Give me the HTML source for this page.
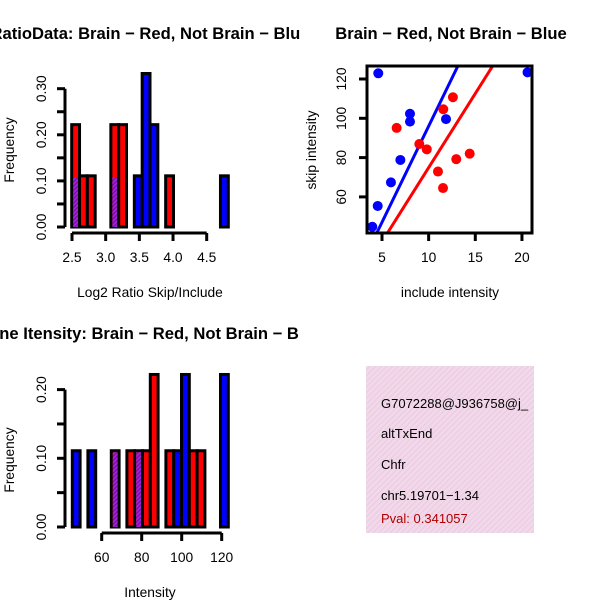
<!DOCTYPE html>
<html><head><meta charset="utf-8"><style>
html,body{margin:0;padding:0;background:#fff;}
svg{display:block;font-family:"Liberation Sans",sans-serif;}
</style></head><body>
<svg id="c" width="600" height="600" viewBox="0 0 600 600">
<defs>
<pattern id="hatch" width="4" height="4" patternUnits="userSpaceOnUse" patternTransform="rotate(45)">
<rect width="4" height="4" fill="#f6d6ee"/><rect width="1.2" height="4" fill="#e2d2d8"/>
</pattern>
<pattern id="purp" width="3" height="3" patternUnits="userSpaceOnUse" patternTransform="rotate(45)">
<rect width="3" height="3" fill="#a020f0"/><rect width="1.2" height="3" fill="#7a1080"/>
</pattern>
<clipPath id="sc"><rect x="367" y="66" width="165" height="167"/></clipPath>
<clipPath id="left"><rect x="0" y="0" width="300" height="600"/></clipPath>
</defs>
<g id="p1" clip-path="url(#left)"></g>
<g id="p2"></g>
<g id="p3" clip-path="url(#left)"></g>
<g>
<rect x="366" y="366" width="168" height="167" fill="url(#hatch)"/>
<svg x="366" y="366" width="168" height="167">
<text x="15" y="42" font-size="13">G7072288@J936758@j_</text>
<text x="15" y="72" font-size="13">altTxEnd</text>
<text x="15" y="103" font-size="13">Chfr</text>
<text x="15" y="134" font-size="13">chr5.19701−1.34</text>
<text x="15" y="157" font-size="13" fill="#b00000">Pval: 0.341057</text>
</svg>
</g>
</svg>
<script>
// Histogram 1 data (20 bins)
const h1Red  = [0.222,0.111,0.111,0,0,0.222,0.222,0,0,0,0,0,0.111,0,0,0,0,0,0,0];
const h1Blue = [0.111,0,0,0,0,0.111,0,0,0.111,0.333,0.222,0,0,0,0,0,0,0,0,0.111];
const h1XTicks = [2.5,3.0,3.5,4.0,4.5];
const h1XLabels = ["2.5","3.0","3.5","4.0","4.5"];
const h1YTicks = [0,0.05,0.10,0.15,0.20,0.25,0.30];
// Histogram 3 data (20 bins)
const h3Red  = [0,0,0,0,0,0.111,0,0.111,0.111,0.111,0.222,0,0.111,0,0,0.111,0.111,0,0,0];
const h3Blue = [0.111,0,0.111,0,0,0.111,0,0,0.111,0,0,0,0,0.111,0.222,0,0,0,0,0.222];
const h3XTicks = [60,80,100,120];
const h3YTicks = [0,0.05,0.10,0.15,0.20];
// Scatter data
const blueX = [4.6,3.96,4.54,5.96,6.97,8.0,8.0,11.86,20.6];
const blueY = [122.9,44.8,55.4,67.4,78.8,102.3,98.3,99.6,123.4];
const redX = [6.57,9.0,9.8,11.57,12.6,11.0,11.54,12.96,14.4];
const redY = [95.1,86.9,84.2,104.6,110.7,72.9,64.5,79.2,82.0];
const blueFit = [-1.8,9.78]; // intercept, slope
const redFit = [-0.5,7.54];
const scXTicks = [5,10,15,20];
const scYTicks = [60,80,100,120];

const NS="http://www.w3.org/2000/svg";
const TS=16.6, LS=13.8;
function mk(parent,tag,attrs,text){const e=document.createElementNS(NS,tag);for(const k in attrs)e.setAttribute(k,attrs[k]);if(text!==undefined)e.textContent=text;parent.appendChild(e);return e;}

function hist(g,red,blue,x0,x1,ybase,pxPer01,yTicks,yLab,xAxisY,xTickPos,xTickLabels,title,titleX,titleY,xlabText,xlabY,name){
  const n=red.length,bw=(x1-x0)/n;
  const ys=v=>ybase-v/0.1*pxPer01;
  for(let i=0;i<n;i++){
    const r=red[i],b=blue[i];if(r<=0&&b<=0)continue;
    const hi=Math.max(r,b),lo=Math.min(r,b);
    const col=r>=b?"#ff0000":"#0000ff";
    let e=mk(g,"rect",{x:x0+i*bw,y:ys(hi),width:bw,height:ys(0)-ys(hi),fill:col,stroke:"#000","stroke-width":3});
    
    
    if(lo>0){e=mk(g,"rect",{x:x0+i*bw+1.5,y:ys(lo)+1.5,width:bw-3,height:ys(0)-ys(lo)-1.5,fill:"url(#purp)"});
    
    }
  }
  mk(g,"line",{x1:65,x2:65,y1:ys(yTicks[yTicks.length-1]),y2:ys(0),stroke:"#000","stroke-width":3});
  yTicks.forEach((t,i)=>{mk(g,"line",{x1:57,x2:65,y1:ys(t),y2:ys(t),stroke:"#000","stroke-width":3});
    if(i%2==0){const e=mk(g,"text",{x:0,y:0,"font-size":LS,"text-anchor":"middle",transform:`translate(46,${ys(t)}) rotate(-90)`},t.toFixed(2));
    
    }});
  mk(g,"line",{x1:xTickPos[0],x2:xTickPos[xTickPos.length-1],y1:xAxisY,y2:xAxisY,stroke:"#000","stroke-width":3});
  xTickPos.forEach((p,i)=>{mk(g,"line",{x1:p,x2:p,y1:xAxisY,y2:xAxisY+8,stroke:"#000","stroke-width":3});
    const e=mk(g,"text",{x:p,y:xAxisY+29,"font-size":LS,"text-anchor":"middle"},xTickLabels[i]);
    
    });
  let e=mk(g,"text",{x:0,y:0,"font-size":LS,"text-anchor":"middle",transform:`translate(14,${yLab}) rotate(-90)`},"Frequency");
  
  
  e=mk(g,"text",{x:150,y:xlabY,"font-size":LS,"text-anchor":"middle"},xlabText);
  
  
  e=mk(g,"text",{x:titleX,y:titleY,"font-size":TS,"font-weight":"bold","text-anchor":"middle"},title);
  
  
}
const p1=document.getElementById('p1');
const s1=v=>72+(v-2.5)*67.35;
hist(p1,h1Red,h1Blue,71.7,228.3,227,46.1,h1YTicks,150,233,h1XTicks.map(s1),h1XLabels,
 "RatioData: Brain − Red, Not Brain − Blue",150,39,"Log2 Ratio Skip/Include",297,"ratio");
const p3=document.getElementById('p3');
const s3=v=>101.7+(v-60)*2;
hist(p3,h3Red,h3Blue,72.3,228.3,527,68.7,h3YTicks,460,533,h3XTicks.map(s3),h3XTicks.map(String),
 "Gene Itensity: Brain − Red, Not Brain − Blue",150,339,"Intensity",597,"intensity");

// scatter
const p2=document.getElementById('p2');
const sx=v=>382+(v-5)*9.33, sy=v=>79+(120-v)*1.965;
const cg=mk(p2,"g",{"clip-path":"url(#sc)"});
[[blueFit,"#0000ff"],[redFit,"#ff0000"]].forEach(([f,c])=>{
  const e=mk(cg,"line",{x1:sx(0),y1:sy(f[0]),x2:sx(30),y2:sy(f[0]+f[1]*30),stroke:c,"stroke-width":3});
  
  
});
blueX.forEach((x,i)=>{const e=mk(cg,"circle",{cx:sx(x),cy:sy(blueY[i]),r:5,fill:"#0000ff"});
  
  });
redX.forEach((x,i)=>{const e=mk(cg,"circle",{cx:sx(x),cy:sy(redY[i]),r:5,fill:"#ff0000"});
  
  });
mk(p2,"rect",{x:367,y:66,width:165,height:167,fill:"none",stroke:"#000","stroke-width":3});
scXTicks.forEach(t=>{mk(p2,"line",{x1:sx(t),x2:sx(t),y1:233,y2:241,stroke:"#000","stroke-width":3});
  const e=mk(p2,"text",{x:sx(t),y:262,"font-size":LS,"text-anchor":"middle"},String(t));
  
  });
scYTicks.forEach(t=>{mk(p2,"line",{x1:359,x2:367,y1:sy(t),y2:sy(t),stroke:"#000","stroke-width":3});
  const e=mk(p2,"text",{x:0,y:0,"font-size":LS,"text-anchor":"middle",transform:`translate(346,${sy(t)}) rotate(-90)`},String(t));
  
  });
let e=mk(p2,"text",{x:450,y:297,"font-size":LS,"text-anchor":"middle"},"include intensity");


e=mk(p2,"text",{x:0,y:0,"font-size":LS,"text-anchor":"middle",transform:"translate(316,150) rotate(-90)"},"skip intensity");


e=mk(p2,"text",{x:451,y:39,"font-size":TS,"font-weight":"bold","text-anchor":"middle"},"Brain − Red, Not Brain − Blue");


</script>
</body></html>
